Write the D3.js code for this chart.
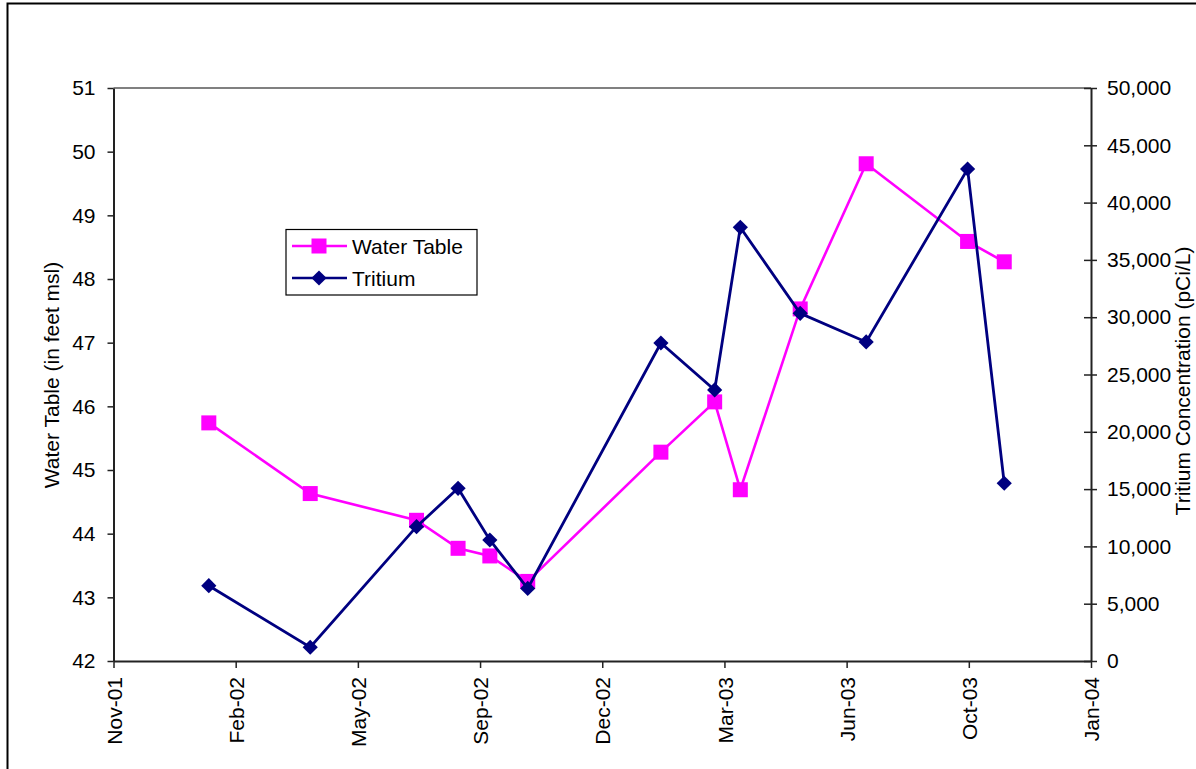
<!DOCTYPE html>
<html>
<head>
<meta charset="utf-8">
<script src="https://cdn.jsdelivr.net/npm/d3@7"></script>
<style>
  html, body { margin: 0; padding: 0; background: #fff; }
  svg { display: block; font-family: Arial, "Liberation Sans", sans-serif; }
  .axis text { font-size: 21px; fill: #000; font-family: Arial, "Liberation Sans", sans-serif; }
</style>
</head>
<body>
<svg id="chart" width="1196" height="769"></svg>
<script>
// Sampling dates and measured values for the monitoring well
const sampleDates = ["2002-01-22","2002-04-15","2002-07-11","2002-08-14","2002-09-09","2002-10-10",
                     "2003-01-27","2003-03-12","2003-04-02","2003-05-21","2003-07-14","2003-10-05","2003-11-04"];
const waterTable = [45.74, 44.63, 44.21, 43.77, 43.65, 43.25, 45.28, 46.07, 44.69, 47.53, 49.81, 48.59, 48.27];
const tritium = [6570, 1200, 11720, 15070, 10560, 6330, 27750, 23650, 37840, 30340, 27840, 42930, 15510];

// Axis ranges and ticks
const xStart = "2001-11-05";
const xEnd = "2004-01-14";
const xTickStepDays = 100;
const leftTicks = [42, 43, 44, 45, 46, 47, 48, 49, 50, 51];
const rightTicks = [0, 5000, 10000, 15000, 20000, 25000, 30000, 35000, 40000, 45000, 50000];
const seriesNames = ["Water Table", "Tritium"];

const parse = d3.utcParse("%Y-%m-%d");
const dates = sampleDates.map(parse);
const x0 = parse(xStart), x1 = parse(xEnd);
// Date ticks every 100 days from the axis start
const xTicks = d3.range(0, 9).map(i => d3.utcDay.offset(x0, i * xTickStepDays));

const svg = d3.select("#chart");
const plot = { left: 113.5, right: 1091, top: 88, bottom: 661 };
const fontSize = 21;

const x = d3.scaleUtc().domain([x0, x1]).range([plot.left, plot.right]);
const yL = d3.scaleLinear().domain([42, 51]).range([plot.bottom, plot.top]);
const yR = d3.scaleLinear().domain([0, 50000]).range([plot.bottom, plot.top]);

// Outer chart frame
svg.append("rect")
  .attr("x", 7.5).attr("y", 3.5)
  .attr("width", 1300).attr("height", 900)
  .attr("fill", "#fff").attr("stroke", "#000").attr("stroke-width", 2);

// Plot area top border
svg.append("line")
  .attr("x1", plot.left).attr("x2", plot.right)
  .attr("y1", plot.top).attr("y2", plot.top)
  .attr("stroke", "#808080").attr("stroke-width", 2);

// Left axis: water table elevation
const gL = svg.append("g").attr("class", "axis")
  .attr("transform", `translate(${plot.left},0)`)
  .call(d3.axisLeft(yL).tickValues(leftTicks).tickSize(6).tickSizeOuter(0).tickPadding(12).tickFormat(d3.format("d")));

// Right axis: tritium concentration, ticks crossing the axis
const gR = svg.append("g").attr("class", "axis")
  .attr("transform", `translate(${plot.right},0)`)
  .call(d3.axisRight(yR).tickValues(rightTicks).tickSize(6).tickSizeOuter(0).tickPadding(10).tickFormat(d3.format(",")));
gR.selectAll(".tick line").attr("x1", -7);

// Bottom axis: sampling dates
const gB = svg.append("g").attr("class", "axis")
  .attr("transform", `translate(0,${plot.bottom})`)
  .call(d3.axisBottom(x).tickValues(xTicks).tickSize(7).tickSizeOuter(0).tickFormat(d3.utcFormat("%b-%y")));
gB.selectAll(".tick text")
  .attr("transform", "rotate(-90)")
  .attr("x", -16).attr("y", 0).attr("dy", "0.36em")
  .style("text-anchor", "end");

[gL, gR, gB].forEach(g => {
  g.select(".domain").attr("stroke", "#222").attr("stroke-width", 2);
  g.selectAll(".tick line").attr("stroke", "#222").attr("stroke-width", 1.5);
});

// Axis titles
svg.append("text")
  .attr("transform", "translate(59,375) rotate(-90)")
  .attr("text-anchor", "middle")
  .attr("font-size", fontSize)
  .text("Water Table (in feet msl)");
svg.append("text")
  .attr("transform", "translate(1190,381) rotate(-90)")
  .attr("text-anchor", "middle")
  .attr("font-size", fontSize)
  .text("Tritium Concentration (pCi/L)");

const magenta = "#FF00FF", navy = "#000080";
const sq = 15, dia = 7.6;
const diamondPath = (cx, cy, r) => `M${cx},${cy - r}L${cx + r},${cy}L${cx},${cy + r}L${cx - r},${cy}Z`;

// Water table series
const wt = dates.map((d, i) => [d, waterTable[i]]);
svg.append("path")
  .datum(wt)
  .attr("fill", "none").attr("stroke", magenta).attr("stroke-width", 2.6)
  .attr("d", d3.line().x(d => x(d[0])).y(d => yL(d[1])));
svg.append("g").selectAll("rect").data(wt).join("rect")
  .attr("x", d => x(d[0]) - sq / 2).attr("y", d => yL(d[1]) - sq / 2)
  .attr("width", sq).attr("height", sq).attr("fill", magenta);

// Tritium series
const tr = dates.map((d, i) => [d, tritium[i]]);
svg.append("path")
  .datum(tr)
  .attr("fill", "none").attr("stroke", navy).attr("stroke-width", 2.8)
  .attr("d", d3.line().x(d => x(d[0])).y(d => yR(d[1])));
svg.append("g").selectAll("path").data(tr).join("path")
  .attr("d", d => diamondPath(x(d[0]), yR(d[1]), dia))
  .attr("fill", navy);

// Legend
const lg = svg.append("g");
lg.append("rect")
  .attr("x", 286).attr("y", 229.5).attr("width", 191).attr("height", 65.5)
  .attr("fill", "#fff").attr("stroke", "#000").attr("stroke-width", 1.2);
const rows = [
  { name: seriesNames[0], color: magenta, y: 246, marker: "square" },
  { name: seriesNames[1], color: navy, y: 278, marker: "diamond" }
];
rows.forEach(r => {
  lg.append("line").attr("x1", 292).attr("x2", 347).attr("y1", r.y).attr("y2", r.y)
    .attr("stroke", r.color).attr("stroke-width", 2.6);
  if (r.marker === "square") {
    lg.append("rect").attr("x", 319 - sq / 2).attr("y", r.y - sq / 2)
      .attr("width", sq).attr("height", sq).attr("fill", r.color);
  } else {
    lg.append("path").attr("d", diamondPath(319, r.y, dia)).attr("fill", r.color);
  }
  lg.append("text").attr("x", 352).attr("y", r.y).attr("dy", "0.36em")
    .attr("font-size", fontSize).text(r.name);
});
</script>
</body>
</html>
